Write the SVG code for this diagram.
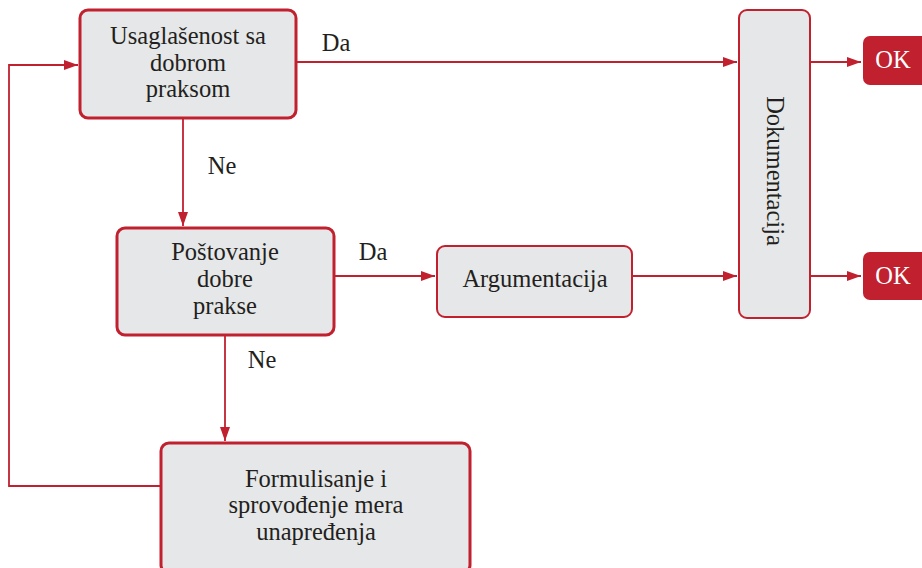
<svg xmlns="http://www.w3.org/2000/svg" width="922" height="568" viewBox="0 0 922 568">
<defs>
<marker id="ah" viewBox="0 0 14 10" refX="14" refY="5" markerWidth="14" markerHeight="10" markerUnits="userSpaceOnUse" orient="auto">
<path d="M0,0 L14,5 L0,10 Z" fill="#c1202f"/>
</marker>
<style>
.box{fill:#e6e7e8;stroke:#c1202f;stroke-width:3}
.thin{fill:#e6e7e8;stroke:#c1202f;stroke-width:2}
.ok{fill:#c1202f}
.t{font-size:24.5px;fill:#231f20;text-anchor:middle}
.w{font-size:24.5px;fill:#ffffff;text-anchor:middle}
.c{fill:none;stroke:#c1202f;stroke-width:1.8}
</style>
</defs>
<rect width="922" height="568" fill="#ffffff"/>
<g font-family="Liberation Serif, serif">
<g id="connectors">
<path class="c" d="M296,62 L737,62" marker-end="url(#ah)"/>
<path class="c" d="M810,62 L861,62" marker-end="url(#ah)"/>
<path class="c" d="M183,118 L183,226" marker-end="url(#ah)"/>
<path class="c" d="M334,276 L435,276" marker-end="url(#ah)"/>
<path class="c" d="M632,276 L737,276" marker-end="url(#ah)"/>
<path class="c" d="M810,276 L861,276" marker-end="url(#ah)"/>
<path class="c" d="M225,335 L225,441" marker-end="url(#ah)"/>
<path class="c" d="M161,486 L9,486 L9,65 L78,65" marker-end="url(#ah)"/>
<text class="t" x="336" y="51">Da</text>
<text class="t" x="222" y="174">Ne</text>
<text class="t" x="373" y="260">Da</text>
<text class="t" x="262" y="368">Ne</text>
</g>
<g id="usaglasenost">
<rect class="box" x="80" y="10" width="216" height="108" rx="8"/>
<text class="t" x="188" y="44">Usaglašenost sa</text>
<text class="t" x="188" y="71">dobrom</text>
<text class="t" x="188" y="97">praksom</text>
</g>
<g id="postovanje">
<rect class="box" x="117" y="228" width="217" height="107" rx="8"/>
<text class="t" x="225" y="260">Poštovanje</text>
<text class="t" x="225" y="287">dobre</text>
<text class="t" x="225" y="314">prakse</text>
</g>
<g id="argumentacija">
<rect class="thin" x="437" y="246" width="195" height="71" rx="8"/>
<text class="t" x="535" y="287">Argumentacija</text>
</g>
<g id="dokumentacija">
<rect class="thin" x="739" y="10" width="71" height="308" rx="8"/>
<text class="t" transform="translate(775,171) rotate(90)" x="0" y="8">Dokumentacija</text>
</g>
<g id="formulisanje">
<rect class="box" x="161" y="443" width="309" height="130" rx="8"/>
<text class="t" x="316" y="487">Formulisanje i</text>
<text class="t" x="316" y="513">sprovođenje mera</text>
<text class="t" x="316" y="540">unapređenja</text>
</g>
<g id="ok1">
<rect class="ok" x="863" y="36" width="66" height="49" rx="7"/>
<text class="w" x="893" y="68">OK</text>
</g>
<g id="ok2">
<rect class="ok" x="863" y="252" width="66" height="48" rx="7"/>
<text class="w" x="893" y="284">OK</text>
</g>
</g>
</svg>
